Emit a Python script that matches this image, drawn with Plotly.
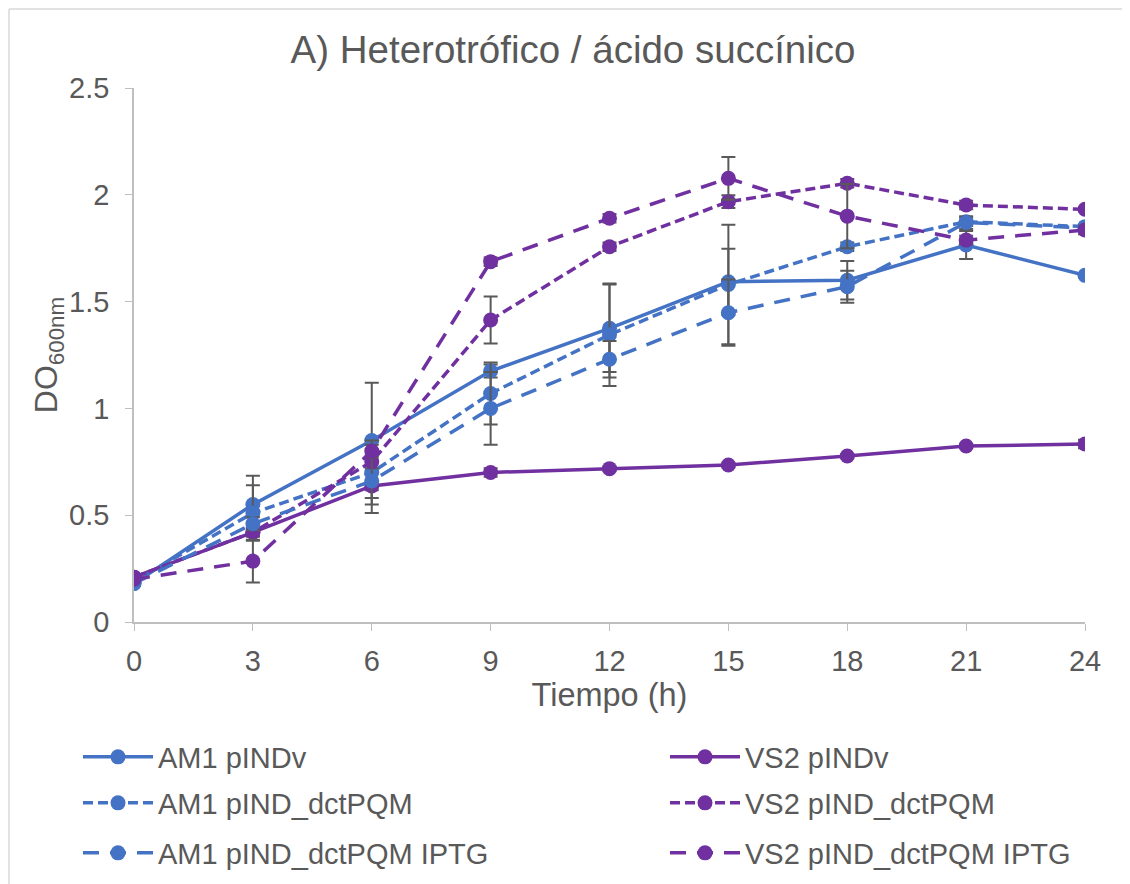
import plotly.graph_objects as go

tiempo = [0, 3, 6, 9, 12, 15, 18, 21, 24]

am1_pindv = [0.18, 0.55, 0.85, 1.175, 1.375, 1.593, 1.60, 1.765, 1.623]
am1_dct = [0.19, 0.51, 0.70, 1.07, 1.345, 1.58, 1.757, 1.874, 1.851]
am1_iptg = [0.18, 0.46, 0.66, 1.00, 1.23, 1.448, 1.57, 1.87, 1.845]
vs2_pindv = [0.21, 0.42, 0.637, 0.70, 0.718, 0.735, 0.777, 0.824, 0.833]
vs2_dct = [0.21, 0.42, 0.75, 1.414, 1.757, 1.968, 2.054, 1.952, 1.932]
vs2_iptg = [0.20, 0.285, 0.80, 1.687, 1.89, 2.077, 1.90, 1.788, 1.835]

err_am1_pindv = [0.01, 0.135, 0.27, 0.03, 0.205, 0.155, 0.09, 0.065, 0.01]
err_am1_dct = [0.01, 0.13, 0.15, 0.145, 0.24, 0.28, 0.02, 0.02, 0.01]
err_am1_iptg = [0.01, 0.03, 0.15, 0.17, 0.085, 0.155, 0.075, 0.03, 0.01]
err_vs2_pindv = [0.01, 0.02, 0.02, 0.02, 0.01, 0.01, 0.01, 0.01, 0.02]
err_vs2_dct = [0.01, 0.02, 0.03, 0.11, 0.02, 0.03, 0.02, 0.02, 0.01]
err_vs2_iptg = [0.01, 0.10, 0.03, 0.02, 0.02, 0.10, 0.15, 0.02, 0.02]

nombres = ["AM1 pINDv", "VS2 pINDv", "AM1 pIND_dctPQM", "VS2 pIND_dctPQM",
           "AM1 pIND_dctPQM IPTG", "VS2 pIND_dctPQM IPTG"]

BLUE = "#4472C4"
PURPLE = "#7030A0"
GRAY = "#595959"
SHORT = "10px,5px"
LONG = "16px,11px"

# page body has an ~8px default margin; work in screen pixels and convert
OFF = 8
L, R, T, B = 134 - OFF, 1130 - (1085 - OFF), 88 - OFF, 884 - (622 - OFF)
PW, PH = 1085 - 134, 622 - 88


def px_x(sx):
    return (sx - 134) / PW


def px_y(sy):
    return (622 - sy) / PH


series = [
    (nombres[0], am1_pindv, err_am1_pindv, BLUE, "solid", "legend", 78, 757),
    (nombres[1], vs2_pindv, err_vs2_pindv, PURPLE, "solid", "legend2", 665, 757),
    (nombres[2], am1_dct, err_am1_dct, BLUE, SHORT, "legend3", 78, 803),
    (nombres[3], vs2_dct, err_vs2_dct, PURPLE, SHORT, "legend4", 665, 803),
    (nombres[4], am1_iptg, err_am1_iptg, BLUE, LONG, "legend5", 78, 853),
    (nombres[5], vs2_iptg, err_vs2_iptg, PURPLE, LONG, "legend6", 665, 853),
]

FAM = "Liberation Sans, Arial"
fig = go.Figure()
legends = {}
for name, y, e, col, dash, lg, lx, lyy in series:
    fig.add_trace(go.Scatter(
        x=tiempo, y=y, name=name, mode="lines+markers",
        line=dict(color=col, width=3.5, dash=dash),
        marker=dict(color=col, size=15, symbol="circle"),
        error_y=dict(type="data", array=e, visible=True, color=GRAY,
                     thickness=2, width=7),
        legend=lg,
    ))
    legends[lg] = dict(orientation="v", x=px_x(lx), xanchor="left",
                       y=px_y(lyy), yanchor="middle",
                       font=dict(size=29, color=GRAY, family=FAM),
                       itemwidth=70, bgcolor="rgba(0,0,0,0)")

fig.update_layout(
    width=1130, height=884,
    paper_bgcolor="white", plot_bgcolor="white",
    margin=dict(l=L, r=R, t=T, b=B, autoexpand=False),
    font=dict(family=FAM, color=GRAY),
    title=dict(text="A) Heterotrófico / ácido succínico",
               font=dict(size=38.5, color=GRAY),
               x=(573 - OFF) / 1130, xref="container", xanchor="center",
               y=1 - (50 - OFF) / 884, yref="container", yanchor="middle"),
    xaxis=dict(range=[0, 24], tickvals=tiempo, ticks="outside", ticklen=7,
               tickcolor="#BFBFBF", showline=True, linecolor="#BFBFBF",
               linewidth=1.5, showgrid=False, zeroline=False,
               ticklabelstandoff=5,
               tickfont=dict(size=29, color=GRAY),
               title=dict(text="Tiempo (h)", font=dict(size=32.5, color=GRAY), standoff=8)),
    yaxis=dict(range=[0, 2.5], dtick=0.5, ticks="outside", ticklen=7,
               tickcolor="#BFBFBF", showline=True, linecolor="#BFBFBF",
               linewidth=1.5, showgrid=False, zeroline=False,
               ticklabelstandoff=10,
               tickfont=dict(size=29, color=GRAY), tickformat="~g",
               title=dict(text="DO<sub>600nm</sub>", font=dict(size=32, color=GRAY), standoff=2)),
    showlegend=True,
    **legends,
)

# chart frame (light border)
fig.add_shape(type="line", xref="paper", yref="paper",
              x0=px_x(9), x1=1.3, y0=px_y(9), y1=px_y(9),
              line=dict(color="#D9D9D9", width=1.5))
fig.add_shape(type="line", xref="paper", yref="paper",
              x0=px_x(9), x1=px_x(9), y0=px_y(9), y1=-0.7,
              line=dict(color="#D9D9D9", width=1.5))

fig.write_html("out.html")
